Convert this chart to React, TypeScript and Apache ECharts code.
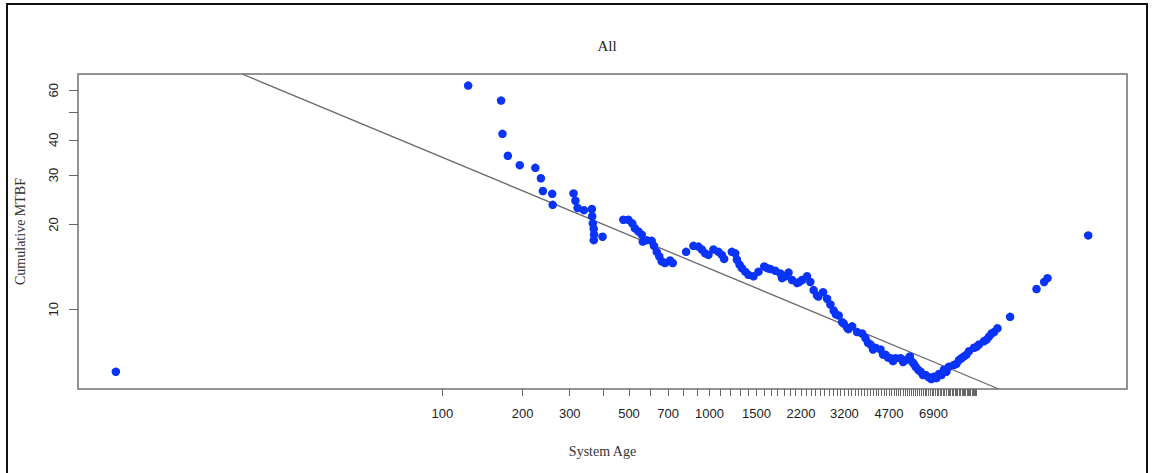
import React, { useEffect, useRef } from 'react';
import * as echarts from 'echarts';

const chartTitle = 'All';
const xAxisName = 'System Age';
const yAxisName = 'Cumulative MTBF';

const systemAge = [
  6, 125, 166, 168, 176, 195, 223, 234, 238, 258, 259, 310, 315, 321, 339, 363, 364, 366, 369, 370,
  369, 398, 476, 497, 514, 526, 542, 558, 563, 582, 608, 620, 635, 649, 663, 682, 712, 729, 818, 871,
  909, 937, 964, 991, 1035, 1081, 1113, 1135, 1213, 1249, 1267, 1296, 1323, 1361, 1400, 1462, 1527,
  1604, 1690, 1764, 1842, 1869, 1978, 2038, 2128, 2222, 2319, 2386, 2455, 2528, 2663, 2756, 2836,
  2918, 3047, 3138, 3182, 3277, 3421, 3572, 3729, 3837, 4006, 4183, 4368, 4560, 4762, 4973, 5192,
  5422, 5626, 5744, 5910, 6170, 6443, 6630, 6921, 7228, 7546, 7880, 8227, 8590, 8969, 9365, 9777,
  10210, 10660, 11130, 11620, 11970, 13350, 16760, 17900, 18430, 26170,
  1646, 1923, 2170, 2557, 2974, 3313, 3922, 4094, 4464, 4866, 5305, 6038, 6304, 6773, 7072, 7385,
  7712, 8407, 8778, 9166, 9991, 10890, 11370, 5824, 4661,
];

const cumulativeMtbf = [
  6.0, 62.3, 55.1, 42.0, 35.1, 32.5, 31.8, 29.2, 26.3, 25.7, 23.5, 25.8, 24.3, 22.9, 22.5, 22.7, 21.4,
  20.2, 19.3, 18.4, 17.6, 18.1, 20.8, 20.8, 20.2, 19.4, 18.9, 18.4, 17.4, 17.6, 17.5, 16.8, 16.0, 15.4,
  14.8, 14.6, 14.9, 14.6, 16.0, 16.8, 16.7, 16.3, 15.8, 15.6, 16.3, 16.0, 15.6, 15.1, 16.0, 15.8, 15.0,
  14.4, 14.0, 13.6, 13.25, 13.1, 13.6, 14.2, 13.9, 13.7, 13.4, 12.9, 13.5, 12.7, 12.4, 12.7, 13.1, 12.5,
  11.7, 11.2, 11.5, 10.9, 10.4, 9.9, 9.5, 9.0, 8.9, 8.6, 8.7, 8.3, 8.2, 7.9, 7.5, 7.3, 7.2, 6.9, 6.7,
  6.7, 6.7, 6.6, 6.8, 6.5, 6.25, 6.0, 5.84, 5.73, 5.76, 5.89, 6.1, 6.25, 6.34, 6.6, 6.8, 7.1, 7.3, 7.5,
  7.7, 8.0, 8.3, 8.56, 9.4, 11.8, 12.5, 12.9, 18.3,
  14.0, 13.1, 12.5, 11.1, 9.6, 8.5, 7.6, 7.2, 6.9, 6.55, 6.5, 6.1, 5.84, 5.65, 5.7, 5.84,
  6.0, 6.4, 6.7, 6.9, 7.35, 7.8, 8.2, 6.4, 6.74,
];

// fitted power-law line endpoints (age, mtbf)
const fitAge = [17.8, 12110];
const fitMtbf = [68.5, 5.21];

const xLabelValues = [100, 200, 300, 500, 700, 1000, 1500, 2200, 3200, 4700, 6900];
const xTickValues: number[] = [];
for (let v = 100; v <= 10000; v += 100) xTickValues.push(v);
const yLabelValues = [10, 20, 30, 40, 60];
const yTickValues = [10, 20, 30, 40, 50, 60];

const xRange = [4.33, 36560];
const yRange = [5.21, 68.5];

export default function App() {
  const ref = useRef<HTMLDivElement>(null);
  useEffect(() => {
    if (!ref.current) return;
    const chart = echarts.init(ref.current, undefined, { renderer: 'svg' });
    const sans = "'Liberation Sans', Arial, sans-serif";
    const serif = "'Liberation Serif', 'Times New Roman', serif";
    const plain = (v: number) => String(Math.round(v));
    chart.setOption({
      animation: false,
      backgroundColor: '#ffffff',
      title: {
        text: chartTitle,
        left: 602,
        top: 33,
        textAlign: 'center',
        textStyle: { fontFamily: serif, fontSize: 15, fontWeight: 'normal', color: '#222' },
      },
      grid: {
        left: 78,
        right: 27,
        top: 74,
        bottom: 84,
        show: true,
        borderColor: '#707070',
        borderWidth: 1.5,
        backgroundColor: 'transparent',
      },
      xAxis: {
        type: 'log',
        min: xRange[0],
        max: xRange[1],
        name: xAxisName,
        nameLocation: 'middle',
        nameGap: 55,
        nameTextStyle: { fontFamily: serif, fontSize: 14, color: '#333' },
        axisLine: { show: false },
        splitLine: { show: false },
        minorTick: { show: false },
        axisTick: {
          show: true,
          length: 7,
          customValues: xTickValues,
          lineStyle: { color: '#666', width: 1 },
        },
        axisLabel: {
          customValues: xLabelValues,
          formatter: plain,
          margin: 18,
          fontFamily: sans,
          fontSize: 13,
          color: '#222',
        },
      },
      yAxis: {
        type: 'log',
        min: yRange[0],
        max: yRange[1],
        name: yAxisName,
        nameLocation: 'middle',
        nameRotate: 90,
        nameGap: 51,
        nameTextStyle: { fontFamily: serif, fontSize: 14, color: '#333' },
        axisLine: { show: false },
        splitLine: { show: false },
        axisTick: {
          show: true,
          length: 9,
          customValues: yTickValues,
          lineStyle: { color: '#666', width: 1 },
        },
        axisLabel: {
          customValues: yLabelValues,
          formatter: plain,
          rotate: 90,
          margin: 18,
          fontFamily: sans,
          fontSize: 13,
          color: '#222',
        },
      },
      graphic: [
        {
          type: 'rect',
          shape: { x: 7, y: 4, width: 1140, height: 490 },
          style: { fill: 'none', stroke: '#111', lineWidth: 2 },
          silent: true,
        },
      ],
      series: [
        {
          type: 'line',
          data: fitAge.map((a, i) => [a, fitMtbf[i]]),
          showSymbol: false,
          symbol: 'none',
          lineStyle: { color: '#6a6a6a', width: 1.3 },
          z: 1,
        },
        {
          type: 'scatter',
          data: systemAge.map((a, i) => [a, cumulativeMtbf[i]]),
          symbol: 'circle',
          symbolSize: 8.5,
          itemStyle: { color: '#0a33f8', opacity: 1 },
          z: 2,
        },
      ],
    });
    return () => chart.dispose();
  }, []);
  return (
    <div
      ref={ref}
      style={{ position: 'absolute', left: 0, top: 0, width: 1154, height: 473, background: '#fff' }}
    />
  );
}
